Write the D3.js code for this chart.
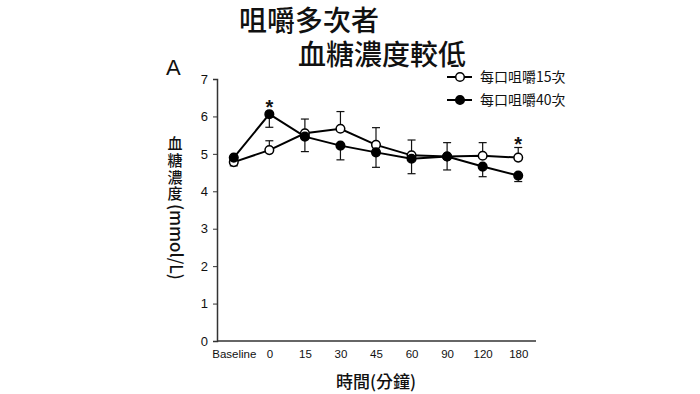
<!DOCTYPE html>
<html>
<head>
<meta charset="utf-8">
<script src="https://cdn.jsdelivr.net/npm/d3@7"></script>
<style>
  body { margin: 0; background: #fff; }
  svg { display: block; }
  text { font-family: "Liberation Sans", Arial, sans-serif; fill: #111; }
  .cjk { font-family: "Noto Sans CJK TC", "Noto Sans", sans-serif; }
</style>
</head>
<body>
<div id="chart"></div>
<script>
// time points (minutes)
const categories = ["Baseline", "0", "15", "30", "45", "60", "90", "120", "180"];
// 每口咀嚼15次 (open circles), error bar drawn upward
const chew15 = [4.78, 5.10, 5.55, 5.67, 5.24, 4.96, 4.93, 4.95, 4.90];
const chew15Err = [0.08, 0.25, 0.38, 0.46, 0.46, 0.41, 0.37, 0.35, 0.27];
// 每口咀嚼40次 (filled circles), error bar drawn downward
const chew40 = [4.90, 6.06, 5.46, 5.22, 5.04, 4.87, 4.93, 4.66, 4.42];
const chew40Err = [0.22, 0.35, 0.40, 0.38, 0.40, 0.40, 0.36, 0.27, 0.16];
const starAt = ["0", "180"];
const yTicks = [0, 1, 2, 3, 4, 5, 6, 7];

const W = 700, H = 394;
const R = 4.3;
const svg = d3.select("#chart").append("svg").attr("width", W).attr("height", H);

const x = d3.scalePoint().domain(categories).range([216, 536]).padding(0.5);
const y = d3.scaleLinear().domain([0, 7]).range([341, 79]);

// title
svg.append("text").attr("class", "cjk").attr("x", 309).attr("y", 31)
  .attr("text-anchor", "middle").attr("font-size", 28).attr("font-weight", 500).text("咀嚼多次者");
svg.append("text").attr("class", "cjk").attr("x", 382).attr("y", 65)
  .attr("text-anchor", "middle").attr("font-size", 28).attr("font-weight", 500).text("血糖濃度較低");
svg.append("text").attr("x", 166).attr("y", 75).attr("font-size", 22).text("A");

// axes
const yAxis = svg.append("g").attr("transform", "translate(217,0)")
  .call(d3.axisLeft(y).tickValues(yTicks).tickFormat(d3.format("d")).tickSize(4).tickPadding(5));
yAxis.selectAll("text").attr("font-size", 13).attr("font-family", "Liberation Sans, Arial");
const xAxis = svg.append("g").attr("transform", "translate(0,341)")
  .call(d3.axisBottom(x).tickSize(0).tickPadding(9));
xAxis.select(".domain").attr("d", "M217,0H536");
xAxis.selectAll("text").attr("font-size", 11.5).attr("font-family", "Liberation Sans, Arial");
svg.selectAll(".domain").attr("stroke", "#333").attr("stroke-width", 1.5);
svg.selectAll(".tick line").attr("stroke", "#333");

// axis titles
svg.append("text").attr("class", "cjk").attr("x", 376).attr("y", 388)
  .attr("text-anchor", "middle").attr("font-size", 17).attr("font-weight", 500).text("時間(分鐘)");
svg.append("text").attr("class", "cjk").attr("x", 175).attr("y", 136)
  .style("writing-mode", "vertical-rl").attr("letter-spacing", 1.7)
  .attr("font-size", 15).attr("font-weight", 500).text("血糖濃度");
svg.append("text").attr("class", "cjk").attr("transform", "translate(170,204) rotate(90)")
  .attr("font-size", 17).attr("font-weight", 500).text("(mmol/L)");

const series = [
  { name: "每口咀嚼15次", vals: chew15, err: chew15Err, dir: 1, fill: "#fff" },
  { name: "每口咀嚼40次", vals: chew40, err: chew40Err, dir: -1, fill: "#000" }
];

series.forEach(s => {
  const g = svg.append("g");
  g.selectAll("g.eb").data(categories).join("g").attr("class", "eb").each(function (c, i) {
    const y0 = y(s.vals[i]), y1 = y(s.vals[i] + s.dir * s.err[i]), cx = x(c);
    const e = d3.select(this);
    e.append("line").attr("x1", cx).attr("x2", cx).attr("y1", y0).attr("y2", y1)
      .attr("stroke", "#111").attr("stroke-width", 1.2);
    e.append("line").attr("x1", cx - 4).attr("x2", cx + 4).attr("y1", y1).attr("y2", y1)
      .attr("stroke", "#111").attr("stroke-width", 1.2);
  });
});
series.forEach(s => {
  svg.append("path").datum(s.vals)
    .attr("d", d3.line().x((d, i) => x(categories[i])).y(d => y(d)))
    .attr("fill", "none").attr("stroke", "#000").attr("stroke-width", 2);
});
series.forEach(s => {
  svg.append("g").selectAll("circle").data(s.vals).join("circle")
    .attr("cx", (d, i) => x(categories[i])).attr("cy", d => y(d)).attr("r", R)
    .attr("fill", s.fill).attr("stroke", "#000").attr("stroke-width", 1.5);
});

// significance stars, just above the highest mark at that time point
svg.selectAll("text.star").data(starAt).join("text").attr("class", "star")
  .attr("x", c => x(c)).attr("y", c => {
    const i = categories.indexOf(c);
    const top = Math.min(y(chew40[i]) - R, y(chew15[i] + chew15Err[i]), y(chew15[i]) - R);
    return top + 4;
  })
  .attr("text-anchor", "middle").attr("font-size", 20).attr("font-weight", "bold")
  .attr("font-family", "DejaVu Sans").text("*");

// legend
series.forEach((s, i) => {
  const ly = 77 + i * 23;
  svg.append("line").attr("x1", 447).attr("x2", 472).attr("y1", ly).attr("y2", ly)
    .attr("stroke", "#000").attr("stroke-width", 2);
  svg.append("circle").attr("cx", 460).attr("cy", ly).attr("r", R)
    .attr("fill", s.fill).attr("stroke", "#000").attr("stroke-width", 1.5);
  svg.append("text").attr("class", "cjk").attr("x", 480).attr("y", ly + 5)
    .attr("font-size", 14).text(s.name);
});
</script>
</body>
</html>
